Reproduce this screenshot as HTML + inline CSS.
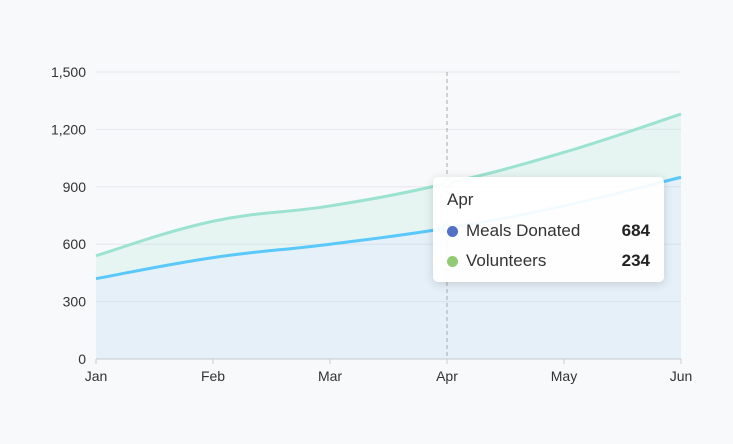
<!DOCTYPE html>
<html><head><meta charset="utf-8">
<style>
html,body{margin:0;padding:0;background:#f8f9fb;width:733px;height:444px;overflow:hidden;font-family:"Liberation Sans",sans-serif;}
#tooltip{position:absolute;left:433px;top:177px;width:231px;height:105px;box-sizing:border-box;background:rgba(255,255,255,0.93);border-radius:5px;box-shadow:0 2px 10px rgba(0,0,0,0.15);padding:13px 14px 0 14px;color:#333;font-size:17px;}
.row{display:flex;align-items:center;height:30px}
.dot{width:11px;height:11px;border-radius:50%;margin-right:8px}
.val{margin-left:auto;font-weight:bold;color:#222}
</style></head><body>
<svg id="chart" width="733" height="444" style="position:absolute;left:0;top:0"></svg>
<div id="tooltip">
<div style="height:26px">Apr</div>
<div class="row"><span class="dot" style="background:#5470c6"></span>Meals Donated<span class="val">684</span></div>
<div class="row"><span class="dot" style="background:#91cc75"></span>Volunteers<span class="val">234</span></div>
</div>
<script>
const categories=["Jan","Feb","Mar","Apr","May","Jun"];
const meals=[420,530,600,684,800,950];
const volunteers=[120,190,200,234,280,330];
const yTicks=[0,300,600,900,1200,1500];
const NS="http://www.w3.org/2000/svg";
const svg=document.getElementById("chart");
const X0=96,X1=681,Y0=359,Y1=72,YMAX=1500;
const x=i=>X0+(X1-X0)*i/(categories.length-1);
const y=v=>Y0-(Y0-Y1)*v/YMAX;
function el(t,a){const e=document.createElementNS(NS,t);for(const k in a)e.setAttribute(k,a[k]);svg.appendChild(e);return e;}
function smooth(pts){let d="M"+pts[0][0]+","+pts[0][1];for(let i=0;i<pts.length-1;i++){const p0=pts[i-1]||pts[i],p1=pts[i],p2=pts[i+1],p3=pts[i+2]||p2;const t=0.2;d+=" C"+(p1[0]+(p2[0]-p0[0])*t)+","+(p1[1]+(p2[1]-p0[1])*t)+" "+(p2[0]-(p3[0]-p1[0])*t)+","+(p2[1]-(p3[1]-p1[1])*t)+" "+p2[0]+","+p2[1];}return d;}
yTicks.forEach(v=>{
 const g=el("line",{x1:X0,x2:X1,y1:y(v),y2:y(v),stroke:v===0?"#ccc":"#e6e8ec","stroke-width":1});
 
 
 const t=el("text",{x:86,y:y(v)+5,"text-anchor":"end","font-size":14,fill:"#333"});t.textContent=v.toLocaleString("en-US");
 
 
});
categories.forEach((c,i)=>{
 const k=el("line",{x1:x(i),x2:x(i),y1:Y0,y2:Y0+5,stroke:"#ccc"});
 
 
 const t=el("text",{x:x(i),y:381,"text-anchor":"middle","font-size":14,fill:"#333"});t.textContent=c;
 
 
});
const pm=meals.map((v,i)=>[x(i),y(v)]);
const pv=volunteers.map((v,i)=>[x(i),y(v+meals[i])]);
const dm=smooth(pm),dv=smooth(pv);
const dmRev=smooth(pm.slice().reverse());
const a2=el("path",{d:dv+" L"+pm[pm.length-1][0]+","+pm[pm.length-1][1]+dmRev.replace("M"," L")+"Z",fill:"rgba(150,225,205,0.18)"});


const a1=el("path",{d:dm+" L"+X1+","+Y0+" L"+X0+","+Y0+"Z",fill:"rgba(120,190,240,0.14)"});


const ax=el("line",{x1:x(3),x2:x(3),y1:Y1,y2:Y0,stroke:"#aaa","stroke-dasharray":"4,3"});


const l2=el("path",{d:dv,fill:"none",stroke:"#9be3d0","stroke-width":3});


const l1=el("path",{d:dm,fill:"none",stroke:"#5ac8fa","stroke-width":3});


const c1=el("circle",{cx:pv[3][0],cy:pv[3][1],r:4,fill:"#fff",stroke:"#9be3d0","stroke-width":2});


const c2=el("circle",{cx:pm[3][0],cy:pm[3][1],r:4,fill:"#fff",stroke:"#5ac8fa","stroke-width":2});


</script>
</body></html>
